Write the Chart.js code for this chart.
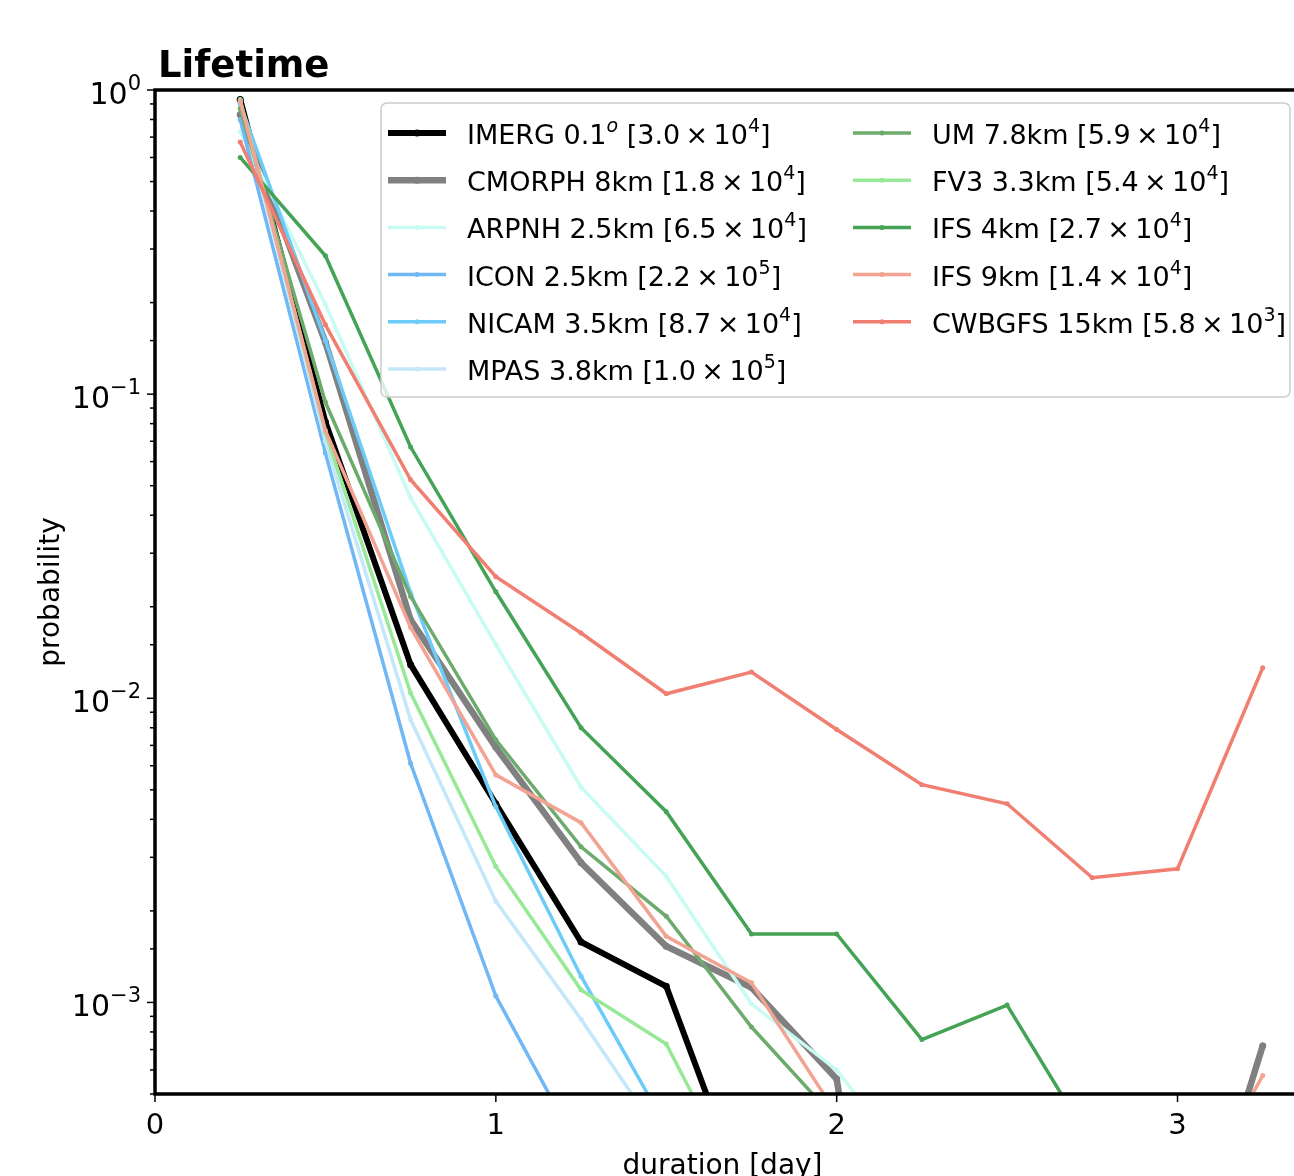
<!DOCTYPE html>
<html>
<head>
<meta charset="utf-8">
<script src="https://cdn.jsdelivr.net/npm/chart.js@4.4.1/dist/chart.umd.min.js"></script>
<style>
  html, body { margin: 0; padding: 0; background: #fff; overflow: hidden; }
  canvas { display: block; }
</style>
</head>
<body>
<canvas id="grafico" width="1294" height="1184"></canvas>
<script>
// duracao em dias (bins de 6h)
var duracoes = [0.25, 0.5, 0.75, 1.0, 1.25, 1.5, 1.75, 2.0, 2.25, 2.5, 2.75, 3.0, 3.25];

// probabilidades (null = fora da area visivel)
var imerg  = [0.93, 0.081, 0.0129, 0.0045, 0.00158, 0.00113, 0.0002, null, null, null, null, null, null];
var cmorph = [0.83, 0.148, 0.0181, 0.0069, 0.00288, 0.00153, 0.00112, 0.00056, 0.00001, null, null, 0.00009, 0.00072];
var arpnh  = [0.73, 0.197, 0.0456, 0.015, 0.0051, 0.0026, 0.00099, 0.0006, 0.00026, null, null, null, null];
var icon   = [0.80, 0.064, 0.0061, 0.00105, 0.00032, null, null, null, null, null, null, null, null];
var nicam  = [0.90, 0.15, 0.0222, 0.0044, 0.00122, 0.00039, null, null, null, null, null, null, null];
var mpas   = [0.92, 0.07, 0.0085, 0.00215, 0.00088, 0.00034, null, null, null, null, null, null, null];
var um     = [0.87, 0.094, 0.0216, 0.0073, 0.00325, 0.00192, 0.00083, 0.00041, null, null, null, null, null];
var fv3    = [0.93, 0.075, 0.0104, 0.0028, 0.0011, 0.00073, 0.00021, null, null, null, null, null, null];
var ifs4   = [0.60, 0.285, 0.067, 0.0224, 0.008, 0.00424, 0.00168, 0.00168, 0.000755, 0.00098, 0.00034, null, null];
var ifs9   = [0.92, 0.076, 0.0171, 0.0056, 0.0039, 0.00165, 0.00116, 0.00043, null, null, null, 0.00018, 0.000575];
var cwbgfs = [0.675, 0.169, 0.0523, 0.0251, 0.0164, 0.01035, 0.0122, 0.0079, 0.0052, 0.0045, 0.00257, 0.00275, 0.0126];

var series = [imerg, cmorph, arpnh, icon, nicam, mpas, um, fv3, ifs4, ifs9, cwbgfs];
var rotulos = [
    'IMERG 0.1^{o} [3.0\u2009×\u200910^{4}]',
    'CMORPH 8km [1.8\u2009×\u200910^{4}]',
    'ARPNH 2.5km [6.5\u2009×\u200910^{4}]',
    'ICON 2.5km [2.2\u2009×\u200910^{5}]',
    'NICAM 3.5km [8.7\u2009×\u200910^{4}]',
    'MPAS 3.8km [1.0\u2009×\u200910^{5}]',
    'UM 7.8km [5.9\u2009×\u200910^{4}]',
    'FV3 3.3km [5.4\u2009×\u200910^{4}]',
    'IFS 4km [2.7\u2009×\u200910^{4}]',
    'IFS 9km [1.4\u2009×\u200910^{4}]',
    'CWBGFS 15km [5.8\u2009×\u200910^{3}]'
];
var cores = ['#000000', '#808080', '#c8fbf1', '#6fb7f5', '#6ccbf9', '#c4e7fa',
             '#6cab6c', '#97e897', '#44a354', '#f2a391', '#f07e71'];
var espessuras = [6, 6.5, 3.5, 3.5, 3.5, 3.5, 3.5, 3.5, 3.5, 3.5, 3.5];

var FONTE = 'DejaVu Sans';

var ehPotencia10 = function (v) {
    var l = Math.log10(v);
    return Math.abs(l - Math.round(l)) < 1e-9;
};

// texto com ^{x} como sobrescrito; retorna a largura
var desenharTexto = function (ctx, texto, x, base, tamanho, tamSup, elev, soMedir) {
    var partes = texto.split(/\^\{([^}]*)\}/);
    var x0 = x;
    for (var i = 0; i < partes.length; i++) {
        if (!partes[i]) continue;
        var sup = i % 2 === 1;
        var italico = sup && /[a-z]/.test(partes[i]) ? 'italic ' : '';
        ctx.font = italico + (sup ? tamSup : tamanho) + 'px ' + FONTE;
        if (!soMedir) ctx.fillText(partes[i], x, sup ? base - elev : base);
        x += ctx.measureText(partes[i]).width;
    }
    return x - x0;
};

var pluginMoldura = {
    id: 'moldura',
    afterDatasetsDraw: function (chart) {
        var ctx = chart.ctx;
        var area = chart.chartArea;
        var xs = chart.scales.x, ys = chart.scales.y;

        ctx.save();
        ctx.strokeStyle = '#000';
        ctx.fillStyle = '#000';
        ctx.textBaseline = 'alphabetic';

        // marcas e rotulos do eixo y
        ctx.lineWidth = 1.5;
        ys.ticks.forEach(function (t) {
            var p = ys.getPixelForValue(t.value);
            var maior = ehPotencia10(t.value);
            ctx.beginPath();
            ctx.moveTo(area.left, p);
            ctx.lineTo(area.left - (maior ? 8 : 5), p);
            ctx.stroke();
            if (maior) {
                var e = Math.round(Math.log10(t.value));
                var txt = '10^{' + (e < 0 ? '\u2212' + (-e) : String(e)) + '}';
                var w = desenharTexto(ctx, txt, 0, 0, 30, 21, 14, true);
                desenharTexto(ctx, txt, 141 - w, p + 14, 30, 21, 14, false);
            }
        });
        xs.ticks.forEach(function (t) {
            var p = xs.getPixelForValue(t.value);
            ctx.beginPath();
            ctx.moveTo(p, area.bottom);
            ctx.lineTo(p, area.bottom + 8);
            ctx.stroke();
        });

        // bordas (sem a direita, cortada)
        ctx.lineWidth = 3.5;
        ctx.beginPath();
        ctx.moveTo(chart.width, area.top);
        ctx.lineTo(area.left, area.top);
        ctx.lineTo(area.left, area.bottom);
        ctx.lineTo(chart.width, area.bottom);
        ctx.stroke();

        // titulo
        ctx.font = 'bold 37px ' + FONTE;
        ctx.fillText('Lifetime', area.left + 3, 77);

        // legenda em duas colunas
        ctx.beginPath();
        ctx.roundRect(381, 103, 909, 294, 6);
        ctx.fillStyle = 'rgba(255,255,255,0.8)';
        ctx.fill();
        ctx.lineWidth = 1.5;
        ctx.strokeStyle = '#cccccc';
        ctx.stroke();

        for (var i = 0; i < rotulos.length; i++) {
            var col = i < 6 ? 0 : 1;
            var lin = col === 0 ? i : i - 6;
            var y = 133 + lin * 47.2;
            var x0 = col === 0 ? 388 : 853;
            ctx.strokeStyle = cores[i];
            ctx.lineWidth = espessuras[i];
            ctx.beginPath();
            ctx.moveTo(x0, y);
            ctx.lineTo(x0 + 58, y);
            ctx.stroke();
            ctx.fillStyle = cores[i];
            ctx.beginPath();
            ctx.arc(x0 + 29, y, espessuras[i] > 5 ? 3.5 : 2.5, 0, Math.PI * 2);
            ctx.fill();
            ctx.fillStyle = '#000';
            desenharTexto(ctx, rotulos[i], x0 + 79, y + 11, 27, 19, 12, false);
        }
        ctx.restore();
    }
};

var datasets = series.map(function (valores, i) {
    return {
        label: rotulos[i],
        data: duracoes.map(function (d, j) { return { x: d, y: valores[j] }; }),
        borderColor: cores[i],
        backgroundColor: cores[i],
        borderWidth: espessuras[i],
        pointRadius: espessuras[i] > 5 ? 3.5 : 2.5,
        pointBorderWidth: 0,
        pointBackgroundColor: cores[i],
        tension: 0,
        spanGaps: false,
        order: series.length - i
    };
});

var _chart = new Chart(document.getElementById('grafico').getContext('2d'), {
    type: 'line',
    data: { datasets: datasets },
    options: {
        responsive: false,
        animation: false,
        layout: { padding: { top: 90, right: 0, left: 0, bottom: 0 } },
        plugins: {
            legend: { display: false },
            tooltip: { enabled: false },
            title: { display: false }
        },
        scales: {
            x: {
                type: 'linear',
                min: 0,
                max: 3.33,
                grid: { display: false },
                border: { display: false },
                ticks: { stepSize: 1, includeBounds: false, color: '#000', font: { family: FONTE, size: 29 }, padding: 7, maxRotation: 0 },
                title: { display: true, text: 'duration [day]', color: '#000', font: { family: FONTE, size: 28 }, padding: 0 },
                afterFit: function (s) { s.height = 90; }
            },
            y: {
                type: 'logarithmic',
                min: 5e-4,
                max: 1,
                grid: { display: false },
                border: { display: false },
                ticks: {
                    autoSkip: false,
                    callback: function () { return ''; }
                },
                title: { display: true, text: 'probability', color: '#000', font: { family: FONTE, size: 28 }, padding: { top: 35, bottom: 0 } },
                afterFit: function (s) { s.width = 155; }
            }
        }
    },
    plugins: [pluginMoldura]
});
</script>
</body>
</html>
